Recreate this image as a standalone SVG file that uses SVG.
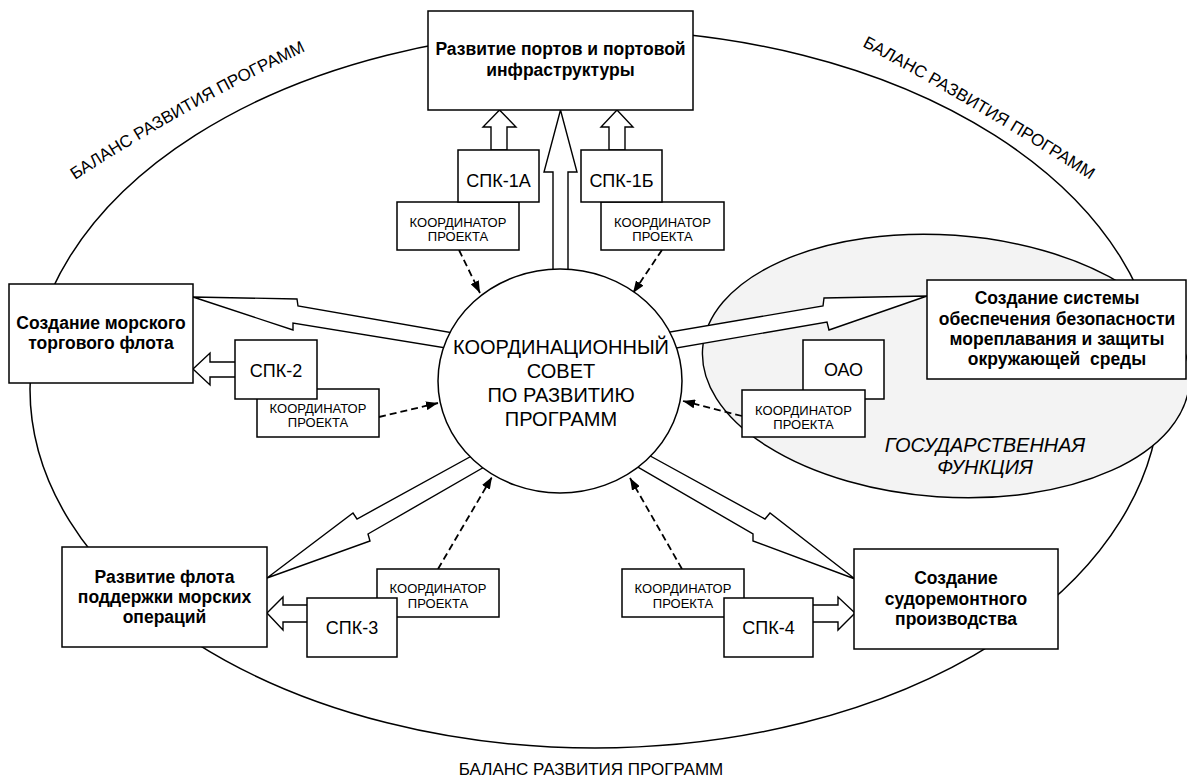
<svg xmlns="http://www.w3.org/2000/svg" width="1187" height="778" viewBox="0 0 1187 778">
<style>
.ln{fill:none;stroke:#000;stroke-width:1.5}
.bx{fill:#fff;stroke:#000;stroke-width:1.5}
.ar{fill:#fff;stroke:#000;stroke-width:1.4;stroke-linejoin:miter}
.ds{fill:none;stroke:#000;stroke-width:1.8;stroke-dasharray:7 4}
text{font-family:"Liberation Sans",Arial,sans-serif;fill:#000}
.b{font-weight:bold;font-size:17.5px;text-anchor:middle}
.s{font-size:18px;text-anchor:middle}
.k{font-size:13px;text-anchor:middle}
.c{font-size:20px;text-anchor:middle}
.g{font-size:20px;font-style:italic;text-anchor:middle}
.bal{font-size:17px}
</style>
<defs>
<marker id="ah" viewBox="0 0 12 9" refX="12" refY="4.5" markerWidth="12" markerHeight="9" markerUnits="userSpaceOnUse" orient="auto">
<path d="M0,0 L12,4.5 L0,9 Z" fill="#000"/>
</marker>
<path id="arcL" d="M 75 180 Q 190 105 318 45"/>
<path id="arcR" d="M 862 46 Q 975 106 1095 183"/>
</defs>

<g id="balance">
<ellipse class="ln" cx="595" cy="389" rx="565" ry="359"/>
<text class="bal"><textPath href="#arcL">БАЛАНС РАЗВИТИЯ ПРОГРАММ</textPath></text>
<text class="bal"><textPath href="#arcR">БАЛАНС РАЗВИТИЯ ПРОГРАММ</textPath></text>
<text class="bal" x="591" y="775" text-anchor="middle">БАЛАНС РАЗВИТИЯ ПРОГРАММ</text>
</g>

<g id="gos">
<ellipse cx="946" cy="366" rx="244" ry="131" transform="rotate(4 946 366)" fill="#f3f3f3" stroke="#000" stroke-width="1.4"/>
<text class="g" x="985" y="452">ГОСУДАРСТВЕННАЯ</text>
<text class="g" x="985" y="474">ФУНКЦИЯ</text>
</g>

<g id="connectors">
<polygon class="ar" points="193,297 297,299 298,306 465,335 455,349.5 293,323 293,330"/>
<polygon class="ar" points="927,296 824,298 823,306 658,334 665,350 827,322 829,330"/>
<polygon class="ar" points="267,578 353,513 357,519 478,452.5 492,462.5 368,534 370,541"/>
<polygon class="ar" points="855,579 770,513 765,519 643,452 631,463 753,534 753,541"/>
<polygon class="ar" points="553,285 553,172 544,172 560.5,110 577,172 568,172 568,285"/>
<polygon class="ar" points="491,150 491,127 483,127 499.5,110 516,127 507,127 507,150"/>
<polygon class="ar" points="609,150 609,127 601,127 617,110 633,127 625,127 625,150"/>
<polygon class="ar" points="236,362 210,362 210,353 193,369 210,385 210,377 236,377"/>
<polygon class="ar" points="308,605 283,605 283,597 267,613 283,630 283,622 308,622"/>
<polygon class="ar" points="812,605 838,605 838,597 855,613 838,630 838,622 812,622"/>
<line class="ds" x1="459" y1="250" x2="480" y2="293" marker-end="url(#ah)"/>
<line class="ds" x1="662" y1="250" x2="633" y2="293" marker-end="url(#ah)"/>
<line class="ds" x1="379" y1="417" x2="438" y2="403" marker-end="url(#ah)"/>
<line class="ds" x1="742" y1="416" x2="683" y2="401" marker-end="url(#ah)"/>
<line class="ds" x1="438" y1="569" x2="492" y2="477" marker-end="url(#ah)"/>
<line class="ds" x1="682" y1="569" x2="630" y2="478" marker-end="url(#ah)"/>
</g>

<g id="council">
<ellipse class="bx" cx="560" cy="381" rx="122" ry="112"/>
<text class="c" x="561" y="354">КООРДИНАЦИОННЫЙ</text>
<text class="c" x="561" y="378">СОВЕТ</text>
<text class="c" x="561" y="402">ПО РАЗВИТИЮ</text>
<text class="c" x="561" y="426">ПРОГРАММ</text>
</g>

<g id="ports">
<rect class="bx" x="428" y="11" width="265" height="99"/>
<text class="b" x="560.5" y="55">Развитие портов и портовой</text>
<text class="b" x="560.5" y="76">инфраструктуры</text>
</g>

<g id="coord1a">
<rect class="bx" x="397" y="202" width="122" height="48"/>
<text class="k" x="458" y="227">КООРДИНАТОР</text>
<text class="k" x="458" y="241">ПРОЕКТА</text>
</g>
<g id="spk1a">
<rect class="bx" x="458" y="150" width="81" height="52"/>
<text class="s" x="498.5" y="187">СПК-1А</text>
</g>

<g id="coord1b">
<rect class="bx" x="601" y="202" width="123" height="48"/>
<text class="k" x="662.5" y="227">КООРДИНАТОР</text>
<text class="k" x="662.5" y="241">ПРОЕКТА</text>
</g>
<g id="spk1b">
<rect class="bx" x="581" y="150" width="81" height="52"/>
<text class="s" x="621.5" y="187">СПК-1Б</text>
</g>

<g id="fleet">
<rect class="bx" x="9" y="284" width="184" height="99"/>
<text class="b" x="101" y="329">Создание морского</text>
<text class="b" x="101" y="349">торгового флота</text>
</g>

<g id="coord2">
<rect class="bx" x="257" y="389" width="122" height="48"/>
<text class="k" x="318" y="413">КООРДИНАТОР</text>
<text class="k" x="318" y="427">ПРОЕКТА</text>
</g>
<g id="spk2">
<rect class="bx" x="235" y="340" width="82" height="59"/>
<text class="s" x="276" y="377">СПК-2</text>
</g>

<g id="safety">
<rect class="bx" x="927" y="280" width="259" height="99"/>
<text class="b" x="1057" y="304">Создание системы</text>
<text class="b" x="1057" y="325">обеспечения безопасности</text>
<text class="b" x="1057" y="345">мореплавания и защиты</text>
<text class="b" x="1057" y="365" xml:space="preserve">окружающей  среды</text>
</g>

<g id="oao">
<rect class="bx" x="803" y="340" width="81" height="59"/>
<text class="s" x="843.5" y="376">ОАО</text>
</g>
<g id="coordOao">
<rect class="bx" x="742" y="390" width="123" height="47"/>
<text class="k" x="803.5" y="415">КООРДИНАТОР</text>
<text class="k" x="803.5" y="429">ПРОЕКТА</text>
</g>

<g id="support">
<rect class="bx" x="62" y="547" width="205" height="100"/>
<text class="b" x="164.5" y="583">Развитие флота</text>
<text class="b" x="164.5" y="603">поддержки морских</text>
<text class="b" x="164.5" y="623">операций</text>
</g>

<g id="coord3">
<rect class="bx" x="377" y="569" width="122" height="48"/>
<text class="k" x="438" y="593">КООРДИНАТОР</text>
<text class="k" x="438" y="608">ПРОЕКТА</text>
</g>
<g id="spk3">
<rect class="bx" x="307" y="598" width="90" height="59"/>
<text class="s" x="352" y="634">СПК-3</text>
</g>

<g id="repair">
<rect class="bx" x="854" y="549" width="204" height="100"/>
<text class="b" x="956" y="584">Создание</text>
<text class="b" x="956" y="605">судоремонтного</text>
<text class="b" x="956" y="625">производства</text>
</g>

<g id="coord4">
<rect class="bx" x="622" y="569" width="122" height="48"/>
<text class="k" x="683" y="593">КООРДИНАТОР</text>
<text class="k" x="683" y="608">ПРОЕКТА</text>
</g>
<g id="spk4">
<rect class="bx" x="724" y="598" width="89" height="59"/>
<text class="s" x="768.5" y="634">СПК-4</text>
</g>
</svg>
